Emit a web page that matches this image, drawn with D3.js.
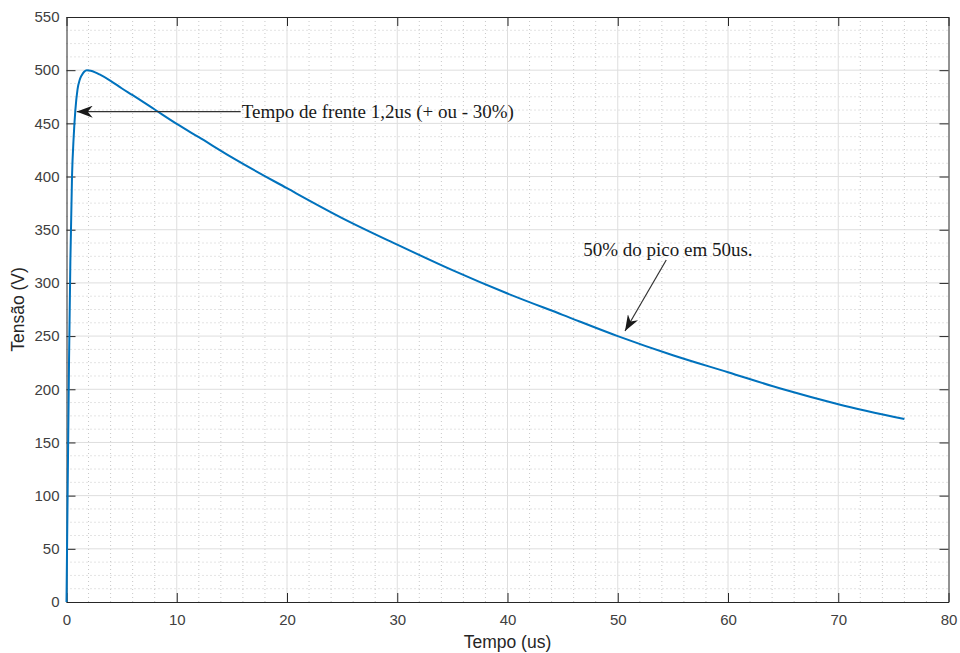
<!DOCTYPE html>
<html>
<head>
<meta charset="utf-8">
<script src="https://cdn.jsdelivr.net/npm/d3@7"></script>
<style>
  body { margin: 0; background: #fff; }
  svg { display: block; }
</style>
</head>
<body>
<svg id="chart"></svg>
<script>
// impulse voltage curve
const tempo = [0, 0.1, 0.23, 0.35, 0.5, 0.65, 0.8, 1.0, 1.2, 1.4, 1.6, 1.85, 2.2, 2.6, 3, 4, 5, 6, 8, 10, 12, 15, 20, 25, 30, 35, 40, 45, 50, 55, 60, 65, 70, 76];
const tensao = [0, 100, 227, 320, 400, 437, 462, 482, 491, 495.5, 498.5, 500, 499.5, 498, 496, 490, 483, 476.5, 463, 449.5, 437, 418, 389, 361, 336, 312, 290, 270, 250, 232, 216, 200, 186, 172];

const xTicks = [0, 10, 20, 30, 40, 50, 60, 70, 80];
const yTicks = [0, 50, 100, 150, 200, 250, 300, 350, 400, 450, 500, 550];

// annotations (data units): arrow from -> to, text anchor
const notes = [
    {text: 'Tempo de frente 1,2us (+ ou - 30%)', from: [15.8, 461], to: [0.93, 461], at: [15.9, 455.5], anchor: 'start'},
    {text: '50% do pico em 50us.', from: [54.4, 321.5], to: [50.66, 254.8], at: [54.55, 325], anchor: 'middle'}
];

const W = 960, H = 653;
const margin = {top: 17, right: 11.5, bottom: 51, left: 66.5};
const iw = W - margin.left - margin.right;
const ih = H - margin.top - margin.bottom;

const svg = d3.select('#chart').attr('width', W).attr('height', H);
const g = svg.append('g').attr('transform', `translate(${margin.left}, ${margin.top})`);

const x = d3.scaleLinear().domain([0, 80]).range([0, iw]);
const y = d3.scaleLinear().domain([0, 550]).range([ih, 0]);

const axisColor = '#262626';
const font = '"Liberation Sans", Arial, Helvetica, sans-serif';

// minor grid
const xMinor = d3.range(0, 80.01, 2).filter(v => v % 10 !== 0);
const yMinor = d3.range(0, 550.01, 12.5).filter(v => v % 50 !== 0);
g.append('g').selectAll('line').data(xMinor).join('line')
    .attr('x1', d => x(d)).attr('x2', d => x(d))
    .attr('y1', 0).attr('y2', ih)
    .attr('stroke', '#c8c8c8').attr('stroke-width', 1)
    .attr('stroke-dasharray', '1,3');
g.append('g').selectAll('line').data(yMinor).join('line')
    .attr('x1', 0).attr('x2', iw)
    .attr('y1', d => y(d)).attr('y2', d => y(d))
    .attr('stroke', '#c8c8c8').attr('stroke-width', 1)
    .attr('stroke-dasharray', '1,3');

// major grid
g.append('g').selectAll('line').data(xTicks.slice(1, -1)).join('line')
    .attr('x1', d => x(d)).attr('x2', d => x(d))
    .attr('y1', 0).attr('y2', ih)
    .attr('stroke', '#dedede').attr('stroke-width', 1);
g.append('g').selectAll('line').data(yTicks.slice(1, -1)).join('line')
    .attr('x1', 0).attr('x2', iw)
    .attr('y1', d => y(d)).attr('y2', d => y(d))
    .attr('stroke', '#dedede').attr('stroke-width', 1);

// axes with inner ticks on all four sides
const tick = 9;
function styleAxis(sel) {
    sel.select('.domain').attr('stroke', axisColor);
    sel.selectAll('.tick line').attr('stroke', axisColor);
    sel.selectAll('.tick text').attr('fill', '#404040')
        .style('font-family', font).style('font-size', '15px');
}
g.append('g').attr('transform', `translate(0, ${ih})`)
    .call(d3.axisBottom(x).tickValues(xTicks).tickSizeInner(-tick).tickSizeOuter(0).tickPadding(12))
    .call(styleAxis);
g.append('g')
    .call(d3.axisTop(x).tickValues(xTicks).tickSizeInner(-tick).tickSizeOuter(0).tickFormat(''))
    .call(styleAxis);
g.append('g')
    .call(d3.axisLeft(y).tickValues(yTicks).tickSizeInner(-tick).tickSizeOuter(0).tickPadding(7))
    .call(styleAxis);
g.append('g').attr('transform', `translate(${iw}, 0)`)
    .call(d3.axisRight(y).tickValues(yTicks).tickSizeInner(-tick).tickSizeOuter(0).tickFormat(''))
    .call(styleAxis);

// curve
const data = tempo.map((t, i) => ({t: t, v: tensao[i]}));
const line = d3.line().x(d => x(d.t)).y(d => y(d.v)).curve(d3.curveMonotoneX);
g.append('path').datum(data)
    .attr('d', line)
    .attr('fill', 'none')
    .attr('stroke', '#0072bd')
    .attr('stroke-width', 2);

// annotations
svg.append('defs').append('marker')
    .attr('id', 'head')
    .attr('viewBox', '0 0 16 12')
    .attr('refX', 16).attr('refY', 6)
    .attr('markerWidth', 16).attr('markerHeight', 12)
    .attr('markerUnits', 'userSpaceOnUse')
    .attr('orient', 'auto')
    .append('path')
    .attr('d', 'M0,0 L16,6 L0,12 L5,6 Z')
    .attr('fill', '#1a1a1a');

notes.forEach(n => {
    g.append('line')
        .attr('x1', x(n.from[0])).attr('y1', y(n.from[1]))
        .attr('x2', x(n.to[0])).attr('y2', y(n.to[1]))
        .attr('stroke', '#333').attr('stroke-width', 1.2)
        .attr('marker-end', 'url(#head)');
    g.append('text')
        .attr('x', x(n.at[0])).attr('y', y(n.at[1]))
        .attr('text-anchor', n.anchor)
        .style('font-family', '"Liberation Serif", "Times New Roman", serif')
        .style('font-size', '19px')
        .attr('fill', '#1a1a1a')
        .text(n.text);
});

// axis labels
svg.append('text')
    .attr('x', margin.left + iw / 2).attr('y', 648)
    .attr('text-anchor', 'middle')
    .style('font-family', font).style('font-size', '17.5px')
    .attr('fill', '#262626')
    .text('Tempo (us)');
svg.append('text')
    .attr('transform', `translate(24, ${margin.top + ih / 2}) rotate(-90)`)
    .attr('text-anchor', 'middle')
    .style('font-family', font).style('font-size', '17.5px')
    .attr('fill', '#262626')
    .text('Tensão (V)');
</script>
</body>
</html>
